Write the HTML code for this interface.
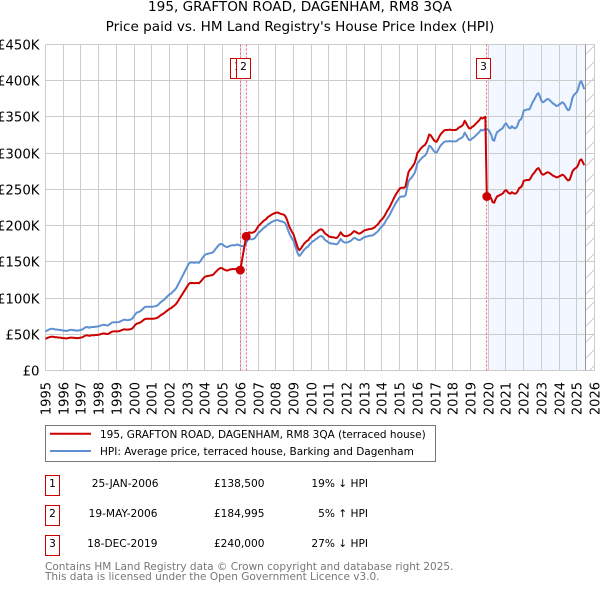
<!DOCTYPE html>
<html lang="en">
<head>
<meta charset="utf-8">
<title>195, Grafton Road, Dagenham - Price paid vs. HPI</title>
<style>
html,body{margin:0;padding:0;background:#fff;}
svg{display:block;}
text{font-family:"DejaVu Sans","Liberation Sans",sans-serif;}
</style>
</head>
<body>
<svg id="chart" xmlns="http://www.w3.org/2000/svg" width="600" height="590" viewBox="0 0 600 590">
  <defs>
    <pattern id="hatch" patternUnits="userSpaceOnUse" width="16" height="16">
      <line x1="0" y1="16" x2="16" y2="0" stroke="#cccccc" stroke-width="1"/>
    </pattern>
  </defs>
  <text x="300" y="11" font-size="13.6" text-anchor="middle" fill="#000">195, GRAFTON ROAD, DAGENHAM, RM8 3QA</text>
  <text x="300" y="31" font-size="13.6" text-anchor="middle" fill="#000">Price paid vs. HM Land Registry's House Price Index (HPI)</text>
  <g id="plot"></g>

  <g>
    <rect x="45.5" y="425.5" width="390" height="36" fill="#fff" stroke="#777" stroke-width="1"/>
    <line x1="50" y1="433.7" x2="91" y2="433.7" stroke="#cc0000" stroke-width="2"/>
    <text x="100" y="438" font-size="10.5" fill="#000">195, GRAFTON ROAD, DAGENHAM, RM8 3QA (terraced house)</text>
    <line x1="50" y1="451" x2="91" y2="451" stroke="#5f90d2" stroke-width="2"/>
    <text x="100" y="455" font-size="10.5" fill="#000">HPI: Average price, terraced house, Barking and Dagenham</text>
  </g>

  <g font-size="10.6" fill="#000">
    <rect x="45.5" y="475.5" width="14" height="20" fill="#fff" stroke="#cc0000"/>
    <text x="52.5" y="487" text-anchor="middle">1</text>
    <text x="158.5" y="487" text-anchor="end">25-JAN-2006</text>
    <text x="264.5" y="487" text-anchor="end">£138,500</text>
    <text x="368" y="487" text-anchor="end">19% ↓ HPI</text>

    <rect x="45.5" y="505.5" width="14" height="20" fill="#fff" stroke="#cc0000"/>
    <text x="52.5" y="517" text-anchor="middle">2</text>
    <text x="157.5" y="517" text-anchor="end">19-MAY-2006</text>
    <text x="264.5" y="517" text-anchor="end">£184,995</text>
    <text x="368" y="517" text-anchor="end">5% ↑ HPI</text>

    <rect x="45.5" y="535.5" width="14" height="20" fill="#fff" stroke="#cc0000"/>
    <text x="52.5" y="547" text-anchor="middle">3</text>
    <text x="157.5" y="547" text-anchor="end">18-DEC-2019</text>
    <text x="264.5" y="547" text-anchor="end">£240,000</text>
    <text x="368" y="547" text-anchor="end">27% ↓ HPI</text>
  </g>

  <text x="45" y="570" font-size="10.5" fill="#777">Contains HM Land Registry data © Crown copyright and database right 2025.</text>
  <text x="45" y="580" font-size="10.5" fill="#777">This data is licensed under the Open Government Licence v3.0.</text>
</svg>
<script>
// Chart data (values in thousands of pounds, monthly from Jan 1995)
const yearTicks = [1995,1996,1997,1998,1999,2000,2001,2002,2003,2004,2005,2006,2007,2008,2009,2010,2011,2012,2013,2014,2015,2016,2017,2018,2019,2020,2021,2022,2023,2024,2025,2026];
const priceTicks = [0,50,100,150,200,250,300,350,400,450];
const priceTickLabels = ['£0','£50K','£100K','£150K','£200K','£250K','£300K','£350K','£400K','£450K'];
const startYear = 1995;
const dataEndYear = 2025.5;
const saleMonths = [132,136,299];
const saleValues = [138.5,184.995,240];
const saleLabels = ['1','2','3'];
const hpiValues = [
54,55,56,57,57.5,57.5,57,56.5,56.5,56,56,55.5,
55,55,54.5,55,55.5,56,56,55.5,55.5,55,55,55.5,
56,56.5,58,59.5,60,59.5,59,60,60,60,60.5,60.5,
61,61.5,62.5,63,63,62.5,62,63,64.5,66,66.5,66.5,
66.5,66.5,67,68,69,70,70,69.5,69.5,70,70.5,72,
75,78,80,80.5,81.5,83,85,87,88,88,88,88,
88,88,88.5,89,90,92,94,95.5,97,99,101,103,
105,106,108,110,112,115,119,123,127,131,135,139,
143,147,149,149,149,148.5,149,149,148.5,151,154,157,
159.5,160.5,161,161.5,162,162.5,164,167,169.5,172,174,174.5,
174,172,171,170,171,172,172.5,173,172.5,173,174,173,
172,171.5,171.5,172,176,180,181.5,181,181,181.5,183,186,
189,191,193,195,197,198,200,202,203,204.5,205.5,206.5,
207,207.5,207,206,205.5,205,204,201,196,190,186,182,
179,173,167,161,158,160,163,166,168,170,171,174,
176,178,179,181,182,184,185,185.5,184,181,179,178,
176,175.5,175,175,174.5,174,175,178,181.5,179,177,176.5,
176.5,177,178,179,181,183,182.5,181,180,180,181,182.5,
184,184.5,185,185.5,186,186,187,188,190,191.5,194,197,
198.5,201,204,208,211,214,218,222,226,230,233,236,
239,240,240,240,242,252,261,264,266,269,272,278,
286,288,291,293,295,296,299,304,310,309,306,303,
301,300.5,304,308,311,313,315,316,316,316,316.5,316,
316,316,316,317,319,320,321,323,328,325,321,318,
318,320,321,323,325,327,329,332,331,332,333,333,
332,329,325,318,317,324,329,330,332,333,335,339,
341,338,335,334,337,335,334,335,339,345,346,350,
358.6,359,360,360,360.5,365,370,373,377,381,382.5,378,
372,370,371,373,374.5,374,372,370,368,367,365,365,
367,368,370,369,366,362,359,360,367,376,380,382,
384,389,397,399,394,388];
const paidValues = [
43.7,44.6,45.4,46.2,46.6,46.6,46.2,45.8,45.8,45.4,45.4,45,
44.6,44.6,44.1,44.6,45,45.4,45.4,45,45,44.6,44.6,45,
45.4,45.8,47,48.2,48.6,48.2,47.8,48.6,48.6,48.6,49,49,
49.4,49.8,50.6,51,51,50.6,50.2,51,52.2,53.5,53.9,53.9,
53.9,53.9,54.3,55.1,55.9,56.7,56.7,56.3,56.3,56.7,57.1,58.3,
60.8,63.2,64.8,65.2,66,67.2,68.9,70.5,71.3,71.3,71.3,71.3,
71.3,71.3,71.7,72.1,72.9,74.5,76.1,77.4,78.6,80.2,81.8,83.4,
85,85.9,87.5,89.1,90.7,93.2,96.4,99.6,102.9,106.1,109.4,112.6,
115.8,119.1,120.7,120.7,120.7,120.3,120.7,120.7,120.3,122.3,124.7,127.2,
129.2,130,130.4,130.8,131.2,131.6,132.8,135.3,137.3,139.3,140.9,141.3,
140.9,139.3,138.5,137.7,138.5,139.3,139.7,140.1,139.7,140.1,140.9,140.1,
138.5,null,null,null,185,189,190.6,190,190,190.6,192,195,
198.5,200.6,202.7,204.8,206.9,207.9,210,212.1,213.2,214.7,215.8,216.8,
217.4,217.9,217.4,216.3,215.8,215.3,214.2,211.1,205.8,199.5,195.3,191.1,
188,181.7,175.4,169.1,165.9,168,171.2,174.3,176.4,178.5,179.6,182.7,
184.8,186.9,188,190.1,191.1,193.2,194.3,194.8,193.2,190.1,188,186.9,
184.8,184.3,183.8,183.8,183.2,182.7,183.8,186.9,190.6,188,185.9,185.3,
185.3,185.9,186.9,188,190.1,192.2,191.6,190.1,189,189,190.1,191.6,
193.2,193.7,194.3,194.8,195.3,195.3,196.4,197.4,199.5,201.1,203.7,206.9,
208.4,211,214.2,218.4,221.6,224.7,228.9,233.1,237.3,241.5,244.7,247.8,
251,252,252,252,254.1,264.6,274,277.2,279.3,282.5,285.6,291.9,
300.3,302.4,305.6,307.7,309.8,310.8,314,319.2,325.5,324.5,321.3,318.2,
316,315.5,319.2,323.4,326.6,328.7,330.8,331.8,331.8,331.8,332.3,331.8,
331.8,331.8,331.8,332.9,335,336,337.1,339.2,344.4,341.3,337.1,333.9,
333.9,336,337.1,339.2,341.3,343.4,345.5,348.6,347.6,348.6,350,240,
242.4,240.2,237.3,232.1,231.4,236.5,240.2,240.9,242.4,243.1,244.6,247.5,
248.9,246.7,244.6,243.8,246,244.6,243.8,244.6,247.5,251.9,252.6,255.5,
261.8,262.1,262.8,262.8,263.2,266.5,270.1,272.3,275.2,278.1,279.2,275.9,
271.6,270.1,270.8,272.3,273.4,273,271.6,270.1,268.6,267.9,266.5,266.5,
267.9,268.6,270.1,269.4,267.2,264.3,262.1,262.8,267.9,274.5,277.4,278.9,
280.3,284,289.8,291.3,287.6,283.2];

// Axis functions
const xScale = function (year) { return 45.44 + 17.7135 * (year - 1995); };
const yScale = function (k) { return 370.5 - k * 0.725; };
const monthToYear = function (i) { return startYear + i / 12; };
const snap = function (v) { return Math.floor(v) + 0.5; };

const NS = 'http://www.w3.org/2000/svg';
const plot = document.getElementById('plot');
function mk(tag, attrs, text) {
  const el = document.createElementNS(NS, tag);
  Object.keys(attrs).forEach(function (k) { el.setAttribute(k, attrs[k]); });
  if (text !== undefined) el.textContent = text;
  plot.appendChild(el);
  return el;
}
function linePath(values) {
  let d = '';
  values.forEach(function (v, i) {
    if (v === null) return;
    d += (d ? 'L' : 'M') + xScale(monthToYear(i)).toFixed(2) + ' ' + yScale(v).toFixed(2);
  });
  return d;
}

const plotLeft = snap(xScale(yearTicks[0]));
const plotRight = snap(xScale(yearTicks[yearTicks.length - 1]));
const plotTop = snap(yScale(priceTicks[priceTicks.length - 1]));
const plotBottom = snap(yScale(priceTicks[0]));
const endX = snap(xScale(dataEndYear));
const saleX = saleMonths.map(function (m) { return snap(xScale(monthToYear(m))); });

// Shaded regions
let el = mk('rect', {x: saleX[0], y: plotTop, width: saleX[1] - saleX[0], height: plotBottom - plotTop, fill: '#f3f7ff'});


el = mk('rect', {x: saleX[2], y: plotTop, width: endX - saleX[2], height: plotBottom - plotTop, fill: '#f3f7ff'});


el = mk('rect', {x: endX, y: plotTop, width: plotRight - endX, height: plotBottom - plotTop, fill: 'url(#hatch)'});



// Grid and tick labels
priceTicks.forEach(function (t, i) {
  const y = snap(yScale(t));
  const g = mk('line', {x1: plotLeft, x2: plotRight, y1: y, y2: y, stroke: '#cccccc', 'stroke-width': 1});
  
  
  const lab = mk('text', {x: 39.5, y: y + 5, 'font-size': 13.3, 'text-anchor': 'end', fill: '#000'}, priceTickLabels[i]);
  
  
});
yearTicks.forEach(function (t) {
  const x = snap(xScale(t));
  const g = mk('line', {x1: x, x2: x, y1: plotTop, y2: plotBottom, stroke: '#cccccc', 'stroke-width': 1});
  
  
  const lab = mk('text', {x: 0, y: 0, 'font-size': 13, 'text-anchor': 'end', fill: '#000', transform: 'translate(' + (x + 5) + ' 382) rotate(-90)'}, String(t));
  
  
});

// Data end line
el = mk('line', {x1: endX, x2: endX, y1: plotTop, y2: plotBottom, stroke: '#999999', 'stroke-width': 1});



// Sale marker lines
saleX.forEach(function (x) {
  const m = mk('line', {x1: x, x2: x, y1: plotTop, y2: plotBottom, stroke: '#ff6666', 'stroke-width': 1, 'stroke-dasharray': '2 2'});
  
  
});

// Series
el = mk('path', {d: linePath(hpiValues), fill: 'none', stroke: '#5f90d2', 'stroke-width': 2, 'stroke-linejoin': 'round'});


el = mk('path', {d: linePath(paidValues), fill: 'none', stroke: '#cc0000', 'stroke-width': 2, 'stroke-linejoin': 'round'});



// Sale points and flag labels
saleMonths.forEach(function (m, i) {
  const p = mk('circle', {cx: xScale(monthToYear(m)), cy: yScale(saleValues[i]), r: 4.5, fill: '#cc0000'});
  
  
  const b = mk('rect', {x: saleX[i] - 10, y: 58.5, width: 14, height: 20, fill: '#fff', stroke: '#cc0000', 'stroke-width': 1});
  
  
  const t = mk('text', {x: saleX[i] - 3, y: 70, 'font-size': 10.6, 'text-anchor': 'middle', fill: '#000'}, saleLabels[i]);
  
  
});
</script>
</body>
</html>
